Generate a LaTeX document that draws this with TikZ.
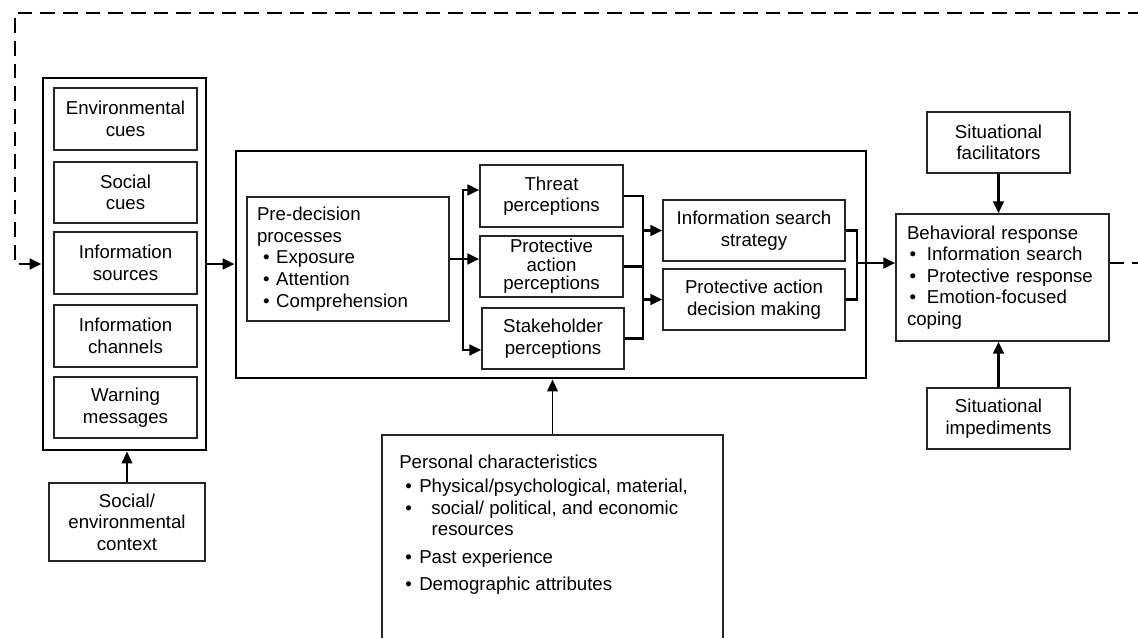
\documentclass[tikz,border=0pt]{standalone}
\usepackage{fontspec}
\setmainfont{Liberation Sans}
\usetikzlibrary{arrows.meta}
\begin{document}
\begin{tikzpicture}[x=0.75pt,y=-0.75pt,
  wh/.style 2 args={minimum width=#1*0.75pt, minimum height=#2*0.75pt},
  txt/.style={font=\fontsize{14}{16.2}\selectfont},
  box/.style={txt, draw=black!85, line width=1.1pt, inner sep=0pt, align=center},
  bigbox/.style={draw=black, line width=2.2pt, inner sep=0pt},
  conn/.style={line width=2pt},
  arr/.style={conn, -{Triangle[length=9pt,width=8pt]}},
  thinarr/.style={line width=1.3pt, -{Triangle[length=9pt,width=8pt]}},
  fb/.style={line width=2.2pt, dash pattern=on 11pt off 6pt, -{Triangle[length=9pt,width=8pt]}}
]
\useasboundingbox (0,0) rectangle (1138,637);
\clip (0,0) rectangle (1138,637);

% left group
\node[bigbox, wh={163}{372}] (outer) at (124.5,264) {};
\node[box, wh={143}{62}] (env) at (125.5,119) {Environmental\\cues};
\node[box, wh={143}{61}] (soc) at (125.5,192.5) {Social\\cues};
\node[box, wh={143}{62}] (src) at (125.5,263) {Information\\sources};
\node[box, wh={143}{62}] (chn) at (125.5,336) {Information\\channels};
\node[box, wh={143}{61}] (msg) at (125.5,407.5) {Warning\\messages};
\node[box, wh={156}{78}] (ctx) at (127,522) {Social/\\environmental\\context};

% central group
\node[bigbox, wh={630}{227}] (central) at (551,264.5) {};
\node[box, align=left, text width=136.5pt, inner xsep=7.5pt, minimum height=93pt] (pre) at (348,259)
  {Pre-decision\\processes\\
   \hspace*{4.5pt}\textbullet\hspace{5pt}Exposure\\
   \hspace*{4.5pt}\textbullet\hspace{5pt}Attention\\
   \hspace*{4.5pt}\textbullet\hspace{5pt}Comprehension};
\node[box, wh={143}{62}] (threat) at (551.5,196) {Threat\\perceptions};
\node[box, wh={143}{61}, font=\fontsize{14}{13.9}\selectfont] (pap) at (551.5,266.5) {Protective\\action\\perceptions};
\node[box, wh={142}{61}] (stake) at (553,338.5) {Stakeholder\\perceptions};
\node[box, wh={182}{61}] (info) at (754,230.5) {Information search\\strategy};
\node[box, wh={182}{61}] (padm) at (754,299.5) {Protective action\\decision making};

% right group
\node[box, align=left, text width=143.25pt, inner xsep=8.25pt, minimum height=95.25pt] (beh) at (1002.5,277.5)
  {Behavioral response\\
   \hspace*{2pt}\textbullet\hspace{8pt}Information search\\
   \hspace*{2pt}\textbullet\hspace{8pt}Protective response\\
   \hspace*{2pt}\textbullet\hspace{8pt}Emotion-focused\\
   coping};
\node[box, wh={143}{61}] (fac) at (998.5,142.5) {Situational\\facilitators};
\node[box, wh={143}{61}] (imp) at (998.5,418.5) {Situational\\impediments};

% personal characteristics
\node[draw=black!85, line width=1.1pt, wh={341}{230}] (pers) at (552.5,550) {};
\node[txt, align=left, inner sep=0pt, anchor=north west] (perstxt) at (399,455)
  {Personal characteristics\\[1.5pt]
   \hspace*{4.5pt}\textbullet\hspace{5.6pt}Physical/psychological, material,\\
   \hspace*{4.5pt}\textbullet\hspace{14.6pt}social/ political, and economic\\
   \hspace*{24.3pt}resources\\[5pt]
   \hspace*{4.5pt}\textbullet\hspace{5.6pt}Past experience\\[3.5pt]
   \hspace*{4.5pt}\textbullet\hspace{5.6pt}Demographic attributes};

% coordinates for brackets
\coordinate (b1) at (463,259);
\coordinate (b2) at (643,264);
\coordinate (b3) at (857,263);
\coordinate (lc) at (15,13);
\coordinate (rc) at (1160,13);
\coordinate (rr) at (1160,263);

% connectors
\draw[arr] (outer.east) -- (outer.east -| central.west);
\draw[thinarr] (ctx.north) -- (ctx.north |- outer.south);

\draw[conn] (pre.east) -- (b1);
\draw[arr] (b1) |- ([yshift=4.5pt]threat.west);
\draw[arr] (b1) |- ([yshift=-8.6pt]stake.west);
\draw[arr] (b1) -- (b1 -| pap.west);

\draw[conn] (threat.east) -| (b2 |- stake.east) -- (stake.east);
\draw[conn] (pap.east) -- (pap.east -| b2);
\draw[arr] (b2 |- info.west) -- (info.west);
\draw[arr] (b2 |- padm.west) -- (padm.west);

\draw[conn] (info.east) -| (b3 |- padm.east) -- (padm.east);
\draw[arr] (b3) -- (b3 -| beh.west);

\draw[arr] (fac.south) -- (fac.south |- beh.north);
\draw[arr] (imp.north) -- (imp.north |- beh.south);
\draw[thinarr] (pers.north) -- (pers.north |- central.south);

% feedback loop
\draw[fb] (b3 -| beh.east) -- (rr) -- (rc) -- (lc) |- (outer.west);
\end{tikzpicture}
\end{document}
